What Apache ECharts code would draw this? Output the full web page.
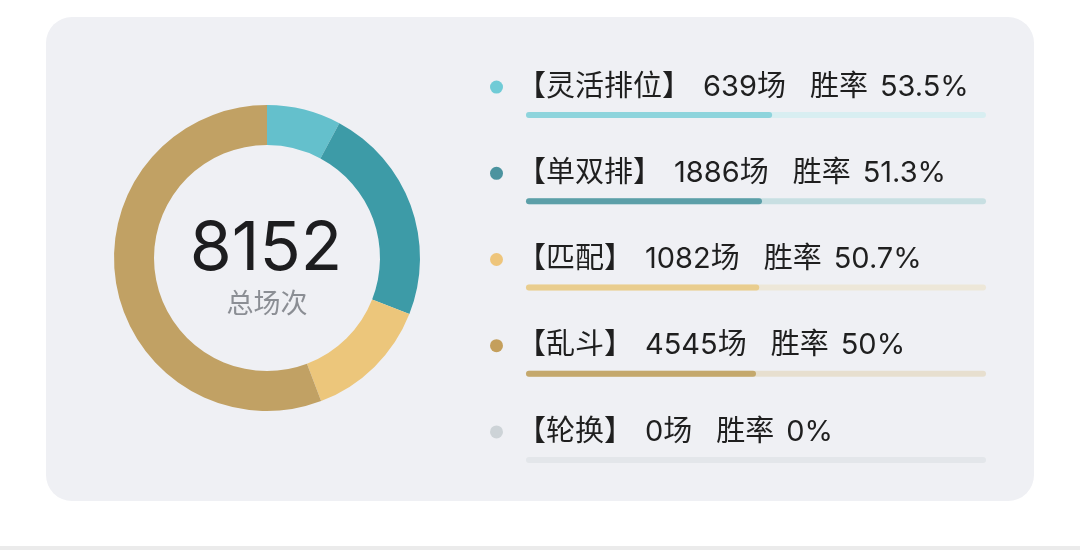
<!DOCTYPE html>
<html>
<head>
<meta charset="utf-8">
<script src="https://cdn.jsdelivr.net/npm/echarts@6/dist/echarts.min.js"></script>
<style>
  html, body { margin: 0; padding: 0; background: #ffffff; }
  #chartmain { width: 1080px; height: 550px; }
</style>
</head>
<body>
<div id="chartmain"></div>
<script>
// 模式名称、场次、胜率
var modeList = ['灵活排位', '单双排', '匹配', '乱斗', '轮换'];
var countList = [639, 1886, 1082, 4545, 0];
var rateList = [53.5, 51.3, 50.7, 50, 0];

// 颜色
var pieColors = ['#64c0cc', '#3d9ba7', '#ecc67b', '#c1a164', '#cdd3d7'];
var dotColors = ['#70cbd6', '#4b939f', '#eec57b', '#c49f5c', '#cdd3d7'];
var fillColors = ['#8ed4dc', '#5c9fa8', '#e9cd8e', '#c4a86c', '#c9cfd4'];
var trackColors = ['#d8eef1', '#c8dfe2', '#ede7d8', '#e7dfcf', '#e3e6ea'];

var FONT = 'Inter, "Noto Sans CJK SC", sans-serif';

var chart = echarts.init(document.getElementById('chartmain'));

var total = 0;
for (var i = 0; i < countList.length; i++) total += countList[i];

var pieData = modeList.map(function (name, i) {
    return { name: name, value: countList[i], itemStyle: { color: pieColors[i] } };
});
var trackData = modeList.map(function (name, i) {
    return { value: 100, itemStyle: { color: trackColors[i] } };
});
var fillData = rateList.map(function (v, i) {
    return { value: v, itemStyle: { color: fillColors[i] } };
});

function txt(pad) {
    return { fontSize: 29, color: '#1f1f1f', fontFamily: FONT, padding: [0, 0, 0, pad] };
}
var rich = {
    name: txt(14),
    num: txt(12),
    rl: txt(24),
    rv: txt(12)
};
dotColors.forEach(function (c, i) {
    rich['dot' + i] = { width: 13, height: 13, borderRadius: 6.5, backgroundColor: c };
});

chart.setOption({
    animation: false,
    graphic: [
        { type: 'rect', z: -10, shape: { x: 46, y: 17, width: 988, height: 484, r: 26 },
          style: { fill: '#eff0f4' } },
        { type: 'rect', z: -10, shape: { x: 0, y: 546, width: 1080, height: 4 },
          style: { fill: '#ebebeb' } },
        { type: 'text', x: 266, y: 250, z: 10,
          style: { text: String(total), fontSize: 68, fill: '#1d1d1f', fontFamily: FONT,
                   align: 'center', verticalAlign: 'middle' } },
        { type: 'text', x: 267, y: 305, z: 10,
          style: { text: '总场次', fontSize: 27, fill: '#8b8e94', fontFamily: FONT,
                   align: 'center', verticalAlign: 'middle' } }
    ],
    grid: { left: 526, width: 460, top: 72, height: 431 },
    xAxis: { type: 'value', min: 0, max: 100, show: false },
    yAxis: { type: 'category', data: modeList, inverse: true, show: false },
    series: [
        {
            type: 'pie',
            center: [267, 258],
            radius: [113, 153],
            startAngle: 90,
            clockwise: true,
            silent: true,
            label: { show: false },
            labelLine: { show: false },
            data: pieData
        },
        {
            name: '背景',
            type: 'bar',
            barWidth: 6,
            silent: true,
            itemStyle: { borderRadius: 3 },
            label: {
                show: true,
                position: [-36, -25],
                align: 'left',
                verticalAlign: 'middle',
                formatter: function (p) {
                    var i = p.dataIndex;
                    return '{dot' + i + '|}{name|【' + modeList[i] + '】}{num|' + countList[i] +
                        '场}{rl|胜率}{rv|' + rateList[i] + '%}';
                },
                rich: rich
            },
            data: trackData
        },
        {
            name: '胜率',
            type: 'bar',
            barWidth: 6,
            barGap: '-100%',
            silent: true,
            itemStyle: { borderRadius: 3 },
            data: fillData
        }
    ]
});
</script>
</body>
</html>
